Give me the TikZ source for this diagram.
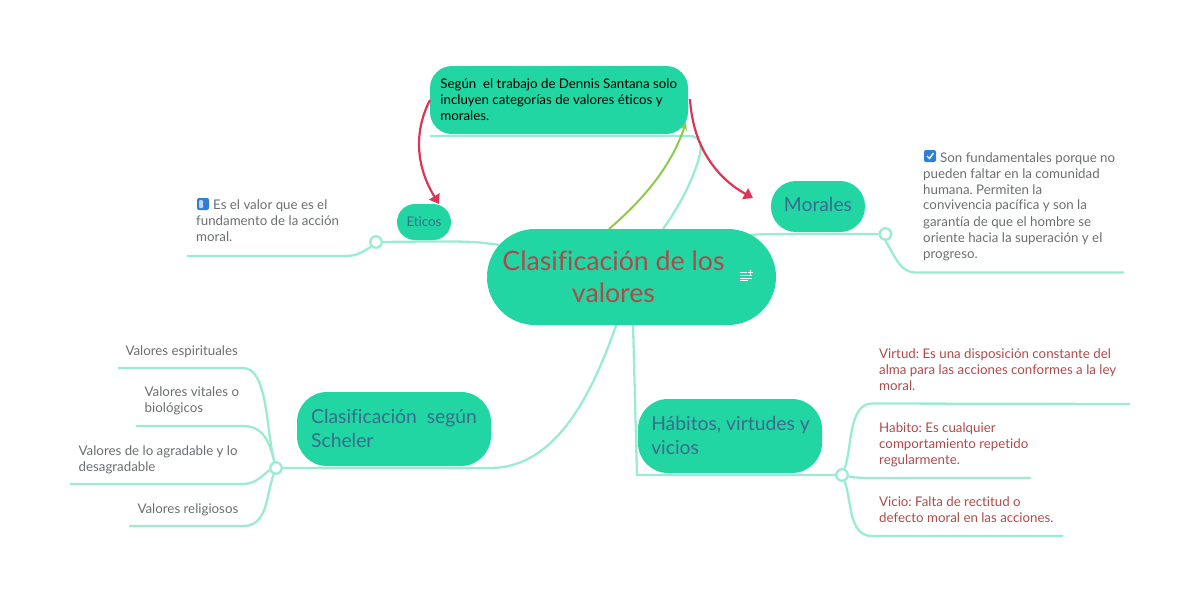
\documentclass[tikz,border=0pt]{standalone}
\usepackage{fontspec}
\setmainfont[Ligatures=NoCommon]{Lato}
\usetikzlibrary{arrows.meta}
\pgfdeclarelayer{back}
\pgfsetlayers{back,main}
\definecolor{teal}{HTML}{22D6A3}
\definecolor{linec}{HTML}{9BEBD2}
\definecolor{bluetx}{HTML}{3A6C8E}
\definecolor{redtx}{HTML}{AE4A4A}
\definecolor{graytx}{HTML}{6A6E70}
\definecolor{redar}{HTML}{DC3555}
\definecolor{greenar}{HTML}{8CCB4A}
\definecolor{iconb}{HTML}{2F7FD6}
\tikzset{
 x=1pt,y=-1pt,
 topic/.style={fill=teal,draw=none,inner sep=0pt,outer sep=0pt,align=left},
 toptext/.style={inner sep=0pt,align=left,text=bluetx,font=\frenchspacing\fontsize{19.3}{24}\selectfont},
 conn/.style={draw=linec,line width=2.3pt},
 knob/.style={circle,draw=linec,fill=white,line width=2.3pt,minimum size=11.5pt,inner sep=0pt},
 note/.style={anchor=north west,inner sep=0pt,align=left,font=\frenchspacing\fontsize{13.3}{16}\selectfont},
 notegray/.style={note,text=graytx},
 notered/.style={note,text=redtx},
 redarrow/.style={draw=redar,line width=2.2pt,-{Triangle[length=9pt,width=12pt]}},
}
\begin{document}
\begin{tikzpicture}
\useasboundingbox (0,0) rectangle (1200,600);
% topics
\node[topic,rounded corners=48pt,minimum width=289pt,minimum height=96pt] (main) at (631.5,277) {};
\node[inner sep=0pt,align=center,text=redtx,font=\frenchspacing\fontsize{26.7}{32}\selectfont] (maintxt) at (613.5,276.5) {Clasificación de los\\valores};
\node[topic,rounded corners=22pt,minimum width=258pt,minimum height=68pt,text=black,font=\frenchspacing\fontsize{13.3}{16}\selectfont] (segun) at (559,100) {};
\node[inner sep=0pt,align=left,text=black,font=\frenchspacing\fontsize{13.3}{16}\selectfont] (seguntxt) at (558.7,100) {Según\ \ el trabajo de Dennis Santana solo\\incluyen categorías de valores éticos y\\morales.};
\node[topic,rounded corners=18pt,minimum width=54pt,minimum height=36pt,align=center,text=bluetx,font=\fontsize{13.3}{16}\selectfont] (eticos) at (424,222) {Eticos};
\node[topic,rounded corners=25pt,minimum width=94pt,minimum height=51pt] (morales) at (818,206.5) {};
\node[toptext] (moraltxt) at (818,204.5) {Morales};
\node[topic,rounded corners=30pt,minimum width=194pt,minimum height=74pt] (scheler) at (394,429) {};
\node[toptext] (schelertxt) at (394,428) {Clasificación\ \ según\\Scheler};
\node[topic,rounded corners=30pt,minimum width=184pt,minimum height=74pt] (habitos) at (730,436) {};
\node[toptext] (habitostxt) at (730.5,435.2) {Hábitos, virtudes y\\vicios};
% knobs
\node[knob] (ketico) at (376,242) {};
\node[knob] (kmoral) at (885.5,234) {};
\node[knob] (ksch) at (276,468) {};
\node[knob] (khab) at (842,475) {};
% leaf ends
\coordinate (e1) at (187,256);
\coordinate (e2) at (1124,272.5);
\coordinate (s1) at (118,368);
\coordinate (s2) at (136,426);
\coordinate (s3) at (70,484);
\coordinate (s4) at (129,526);
\coordinate (h1) at (1130,404);
\coordinate (h2) at (1031,478);
\coordinate (h3) at (1063,536);
\coordinate (sl) at (430,136);
\begin{pgfonlayer}{back}
\draw[conn] (sl) -- (690,136) .. controls (700,136) and (703,146) .. (699,158) .. controls (692,182) and (680,205) .. (main.north -| 663,0);
\draw[conn] (main.west |- 0,245) ++(12,0) .. controls (475,241) and (460,241) .. (ketico.east);
\draw[conn] (ketico.south west) .. controls (363,251) and (358,256) .. (346,256) -- (e1);
\draw[conn] (main.east |- 0,240) ++(-26,-5) .. controls (762,234) and (770,234) .. (kmoral.west);
\draw[conn] (kmoral.south) ++(0,0) .. controls (896,258) and (900,272.5) .. (916,272.5) -- (e2);
\draw[conn] (617,323) .. controls (595,385) and (560,468) .. (490,468) -- (ksch.east);
\draw[conn] (ksch) .. controls (266,430) and (268,368) .. (243,368) -- (s1);
\draw[conn] (ksch) .. controls (270,445) and (265,426) .. (243,426) -- (s2);
\draw[conn] (ksch) .. controls (265,472) and (258,484) .. (243,484) -- (s3);
\draw[conn] (ksch) .. controls (266,495) and (268,526) .. (243,526) -- (s4);
\draw[conn] (633,323) -- (637,475) -- (khab.west);
\draw[conn] (khab) .. controls (852,450) and (848,403.5) .. (872,403.5) -- (h1);
\draw[conn] (khab) .. controls (850,477) and (858,478) .. (872,478) -- (h2);
\draw[conn] (khab) .. controls (852,500) and (848,536) .. (872,536) -- (h3);
\end{pgfonlayer}
% relation arrows
\draw[draw=greenar,line width=2pt,-{Stealth[length=8pt,width=7pt]}] (main.north -| 609,0) .. controls (645,198) and (672,165) .. (686,122);
\draw[redarrow] (segun.west) .. controls (412,135) and (418,170) .. (eticos.north -| 439,0);
\draw[redarrow] (segun.east |- 0,99) ++(2,0) .. controls (693,150) and (720,180) .. (753,198);
\draw[greenar,line width=1pt] (487,275) -- (487,278);
% note text
\node[notegray] (t1) at (196,200) {\hspace{17pt}Es el valor que es el\\fundamento de la acción\\moral.};
\node[notegray] (t2) at (923,152) {\hspace{17pt}Son fundamentales porque no\\pueden faltar en la comunidad\\humana. Permiten la\\convivencia pacífica y son la\\garantía de que el hombre se\\oriente hacia la superación y el\\progreso.};
\node[notegray,anchor=north east,align=left] (v1) at (238,345) {Valores espirituales};
\node[notegray] (v2) at (144.5,386) {Valores vitales o\\biológicos};
\node[notegray] (v3) at (78.5,445) {Valores de lo agradable y lo\\desagradable};
\node[notegray,anchor=north east] (v4) at (238.5,503) {Valores religiosos};
\node[notered] (h1t) at (879,348) {Virtud: Es una disposición constante del\\alma para las acciones conformes a la ley\\moral.};
\node[notered] (h2t) at (879,422) {Habito: Es cualquier\\comportamiento repetido\\regularmente.};
\node[notered] (h3t) at (879,496) {Vicio: Falta de rectitud o\\defecto moral en las acciones.};
% icons
\fill[iconb,rounded corners=2pt] (197,198) rectangle (209,210);
\fill[white!70!iconb,rounded corners=1pt] (199,200) rectangle (203,208);
\fill[iconb,rounded corners=2pt] (924,150) rectangle (936,162);
\draw[white,line width=1.4pt] (927,156) -- (929.5,158.5) -- (933.5,153);
\draw[white,line width=1pt] (740,272.7) -- (747,272.7) (740,275.4) -- (752,275.4) (740,278.1) -- (752,278.1) (740,280.9) -- (748,280.9);
\draw[white,line width=1pt] (750,269.5) -- (750,274.5) (747.5,272) -- (752.5,272);
\end{tikzpicture}
\end{document}
